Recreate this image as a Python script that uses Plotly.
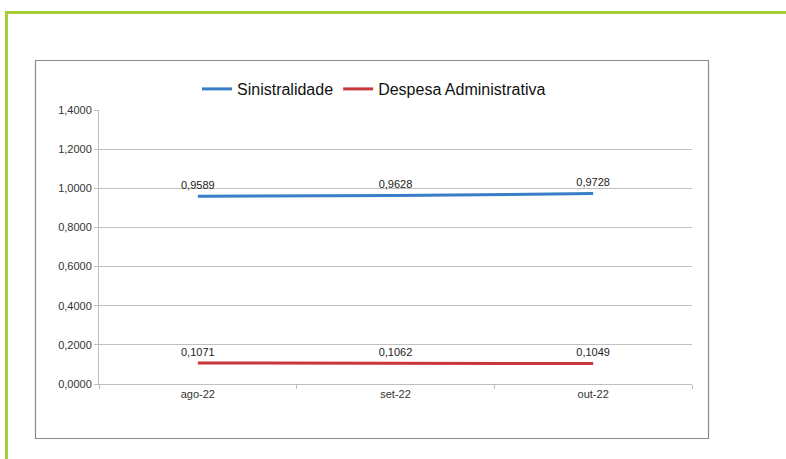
import plotly.graph_objects as go

meses = ["ago-22", "set-22", "out-22"]
sinistralidade = [0.9589, 0.9628, 0.9728]
despesa_adm = [0.1071, 0.1062, 0.1049]

W, H = 786, 459
L, R, T, B = 99, 692, 110, 384


def px(x):
    return (x - L) / (R - L)


def py(y):
    return (B - y) / (B - T)


def fmt(v):
    return f"{v:.4f}".replace(".", ",")


fig = go.Figure()
for nome, vals, cor in [("Sinistralidade", sinistralidade, "#3a7dc9"),
                        ("Despesa Administrativa", despesa_adm, "#c8373a")]:
    fig.add_trace(go.Scatter(
        x=meses, y=vals, name=nome, mode="lines",
        line=dict(color=cor, width=3),
    ))
    # rótulos de dados, sem entrada na legenda
    fig.add_trace(go.Scatter(
        x=meses, y=vals, mode="markers+text", showlegend=False, hoverinfo="skip",
        marker=dict(size=6, opacity=0),
        text=[fmt(v) for v in vals], textposition="top center",
        textfont=dict(size=11, color="#222"),
    ))

shapes = [
    # green frame
    dict(type="line", xref="paper", yref="paper", x0=px(5), x1=px(786), y0=py(12.5), y1=py(12.5),
         line=dict(color="#a5cd3a", width=3)),
    dict(type="line", xref="paper", yref="paper", x0=px(6.5), x1=px(6.5), y0=py(11), y1=py(459),
         line=dict(color="#a5cd3a", width=3)),
    # chart box
    dict(type="rect", xref="paper", yref="paper", x0=px(35.5), x1=px(708.5), y0=py(60.5), y1=py(438.5),
         line=dict(color="#8a8a8a", width=1.2)),
]

fig.update_layout(
    width=W, height=H,
    margin=dict(l=L, r=W - R, t=T, b=H - B),
    paper_bgcolor="white", plot_bgcolor="white",
    font=dict(family="Liberation Sans, Arial, sans-serif", color="#333", size=11),
    separators=",.",
    showlegend=True,
    legend=dict(orientation="h", x=px(374), xanchor="center", y=py(89), yanchor="middle",
                font=dict(size=16, color="#111"), bgcolor="rgba(0,0,0,0)", itemwidth=30),
    shapes=shapes,
    xaxis=dict(range=[-0.5, 2.5], showgrid=False, showline=True, linecolor="#bfbfbf", ticks="outside",
               tickson="boundaries", ticklen=4, tickcolor="#bfbfbf",
               tickfont=dict(size=11, color="#333"), fixedrange=True),
    yaxis=dict(range=[0, 1.4], dtick=0.2, tickformat=".4f", showgrid=True, gridcolor="#c0c0c0",
               showline=True, linecolor="#bfbfbf", ticks="outside", ticklen=4, tickcolor="#bfbfbf",
               zeroline=False, tickfont=dict(size=11, color="#333"), fixedrange=True),
)

fig.write_html("out.html", post_script="document.body.style.margin='0';",
               config={"displayModeBar": False})
